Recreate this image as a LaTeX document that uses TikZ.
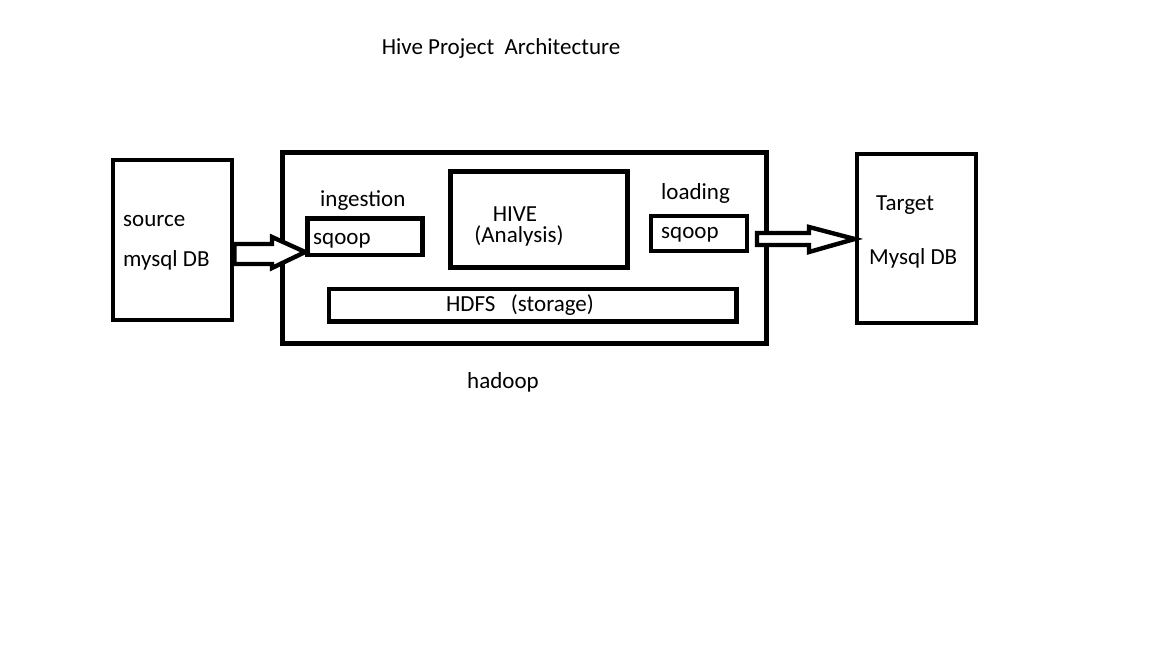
\documentclass[tikz,border=0pt]{standalone}
\usepackage{fontspec}
\setmainfont{Carlito}
\begin{document}
\begin{tikzpicture}[x=1pt,y=-1pt,
  box/.style={draw=black, line width=4.6pt, inner sep=0pt},
  lbl/.style={inner sep=0pt, font=\fontsize{23}{26}\selectfont, text=black},
  blk/.style={draw=black, line width=4.4pt, line join=miter, fill=white}]
\useasboundingbox[fill=white] (0,0) rectangle (1152,648);
% boxes
\node[box, minimum width=119pt, minimum height=160pt] (src) at (172.5,240) {};
\node[box, minimum width=484pt, minimum height=191pt] (had) at (524.5,248) {};
\node[box, minimum width=119pt, minimum height=169pt] (tgt) at (916.5,238.5) {};
\node[box, minimum width=115pt, minimum height=36.5pt] (ing) at (365,236.75) {};
\node[box, minimum width=177pt, minimum height=96pt] (hive) at (539,219.5) {};
\node[box, minimum width=96pt, minimum height=35pt] (lod) at (699,233.5) {};
\node[box, minimum width=407.5pt, minimum height=32.5pt] (hdfs) at (532.75,305.25) {};
% texts
\node[lbl, anchor=base] (title) at (501,54) {Hive Project\ \ Architecture};
\node[lbl, anchor=base west] (srct) at (123,226) {source};
\node[lbl, anchor=base west] (srcdb) at (123,266) {mysql DB};
\node[lbl, anchor=base west] (ingt) at (320,206) {ingestion};
\node[lbl, anchor=base west] (sq1) at (313,244) {sqoop};
\node[lbl, anchor=base, text depth=0pt] (hivet) at (515,221) {HIVE};
\node[lbl, anchor=base, text height=13pt] (anat) at (519,242) {(Analysis)};
\node[lbl, anchor=base west] (lodt) at (661,199) {loading};
\node[lbl, anchor=base west] (sq2) at (661,238) {sqoop};
\node[lbl, anchor=base] (hdfst) at (520,311) {HDFS\ \ \ (storage)};
\node[lbl, anchor=base west] (tgtt) at (876,210) {Target};
\node[lbl, anchor=base west] (tgtdb) at (869,264) {Mysql DB};
\node[lbl, anchor=base] (hadt) at (503,388) {hadoop};
% block arrows
\draw[blk] (src.east |- 0,244) -- (272,244) -- (272,237) -- (ing.west |- 0,252) -- (272,268) -- (272,264) -- (src.east |- 0,264) -- cycle;
\draw[blk] (757,233) -- (809,233) -- (809,227) -- (tgt.west |- 0,239) -- (809,252) -- (809,245) -- (757,245) -- cycle;
\end{tikzpicture}
\end{document}
